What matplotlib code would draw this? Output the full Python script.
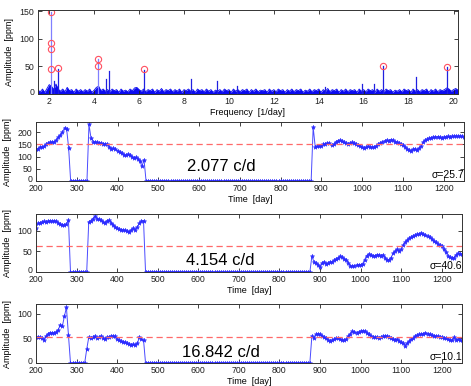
import numpy as np
import matplotlib
matplotlib.use("Agg")
import matplotlib.pyplot as plt
import matplotlib.transforms as mtransforms

plt.rcParams['font.family'] = ['Liberation Sans', 'DejaVu Sans']

# ---------------- Periodogram (top panel) ----------------
noise_start = 1.5
noise_step = 0.1
noise_amp = [
    7, 4, 9, 3, 10, 17, 14, 8, 18, 9,
    5, 9, 4, 12, 6, 8, 3, 9, 5, 8,
    4, 8, 5, 9, 3, 7, 12, 14, 6, 9,
    5, 8, 4, 9, 6, 8, 3, 9, 5, 7,
    4, 9, 6, 11, 12, 8, 5, 9, 4, 8,
    6, 9, 3, 8, 5, 10, 4, 8, 6, 9,
    4, 8, 5, 9, 3, 8, 6, 9, 5, 8,
    3, 9, 6, 8, 4, 9, 5, 8, 3, 7,
    5, 8, 4, 9, 6, 8, 3, 9, 5, 8,
    4, 8, 6, 9, 3, 8, 5, 9, 4, 7,
    6, 8, 3, 9, 5, 8, 4, 9, 6, 8,
    3, 8, 5, 9, 4, 8, 6, 9, 3, 7,
    5, 9, 4, 8, 6, 9, 3, 8, 5, 10,
    4, 8, 6, 9, 3, 8, 5, 9, 4, 8,
    6, 8, 3, 9, 5, 8, 4, 9, 6, 8,
    3, 9, 5, 8, 4, 9, 6, 8, 3, 7,
    5, 8, 4, 9, 6, 8, 3, 9, 5, 8,
    4, 8, 6, 9, 3, 8, 5, 9, 4, 8,
    6, 8, 11, 9, 5, 8, 10, 7,
]

peak_freq = [2.077, 2.21, 2.40, 4.154, 4.53, 4.67, 6.22, 8.30, 9.48, 10.37,
             14.30, 15.93, 16.44, 16.842, 18.33, 19.70]
peak_amp = [148, 24, 45, 63, 27, 41, 44, 28, 23, 14,
            13, 19, 19, 50, 31, 48]

circle_freq = [2.077, 2.077, 2.077, 2.077, 2.40, 4.154, 4.154, 6.22, 16.842, 19.70]
circle_amp = [148, 93, 81, 45, 47, 63, 51, 45, 51, 49]

# ---------------- Amplitude vs time ----------------
t_start = 200
t_step = 5

amp_2077 = [
    # 200-280
    132, 133, 140, 138, 142, 150, 155, 160, 158, 162, 168, 180, 188, 200, 218, 215, 137,
    # 285-325
    0, 0, 0, 0, 0, 0, 0, 0, 0,
    # 330-465
    232, 175, 162, 160, 158, 157, 155, 153, 152, 150, 140, 132, 135, 130, 125, 120,
    115, 108, 105, 110, 108, 100, 95, 97, 90, 80, 60, 88,
    # 470-875
    *([0] * 82),
    # 880-1250
    220, 140, 142, 145, 145, 150, 152, 155, 155, 148, 150, 160, 165, 167, 165, 160,
    155, 152, 155, 158, 157, 152, 148, 145, 138, 135, 138, 142, 140, 138, 140, 145,
    150, 155, 160, 165, 168, 165, 170, 168, 162, 160, 155, 150, 148, 140, 132, 128,
    125, 130, 132, 128, 135, 145, 160, 168, 172, 175, 178, 180, 180, 182, 180, 175,
    180, 182, 183, 182, 183, 183, 184, 183, 184, 183, 182,
]

amp_4154 = [
    108, 118, 120, 122, 123, 122, 124, 125, 124, 125, 123, 120, 116, 115, 114, 116, 126,
    0, 0, 0, 0, 0, 0, 0, 0, 0,
    122, 125, 130, 135, 130, 128, 126, 122, 120, 125, 126, 120, 115, 110, 106, 104,
    103, 102, 101, 100, 98, 103, 106, 103, 110, 118, 124, 125,
    *([0] * 82),
    38, 25, 22, 18, 12, 22, 25, 20, 22, 25, 24, 28, 32, 35, 38, 36,
    32, 30, 22, 15, 14, 15, 17, 18, 18, 20, 30, 40, 44, 42, 40, 40,
    42, 42, 40, 42, 35, 28, 30, 35, 45, 50, 55, 50, 55, 65, 72, 78,
    82, 85, 88, 90, 92, 93, 96, 92, 90, 88, 85, 80, 75, 72, 68, 65,
    62, 55, 48, 40, 36, 35, 35, 42, 45, 44, 44,
]

amp_16842 = [
    52, 53, 52, 50, 47, 55, 60, 62, 61, 62, 63, 68, 78, 75, 95, 113, 57,
    0, 0, 0, 0, 0, 0, 0, 0, 28,
    52, 50, 52, 55, 50, 52, 55, 50, 48, 52, 53, 55, 55, 54, 48, 46,
    45, 43, 42, 40, 38, 36, 38, 37, 40, 53, 48, 47,
    *([0] * 82),
    55, 50, 58, 60, 58, 55, 52, 50, 47, 45, 47, 48, 50, 50, 48, 47,
    46, 48, 55, 60, 65, 63, 62, 63, 65, 66, 65, 62, 58, 55, 53, 52,
    52, 50, 52, 54, 55, 55, 52, 50, 48, 47, 48, 44, 42, 40, 35, 40,
    45, 48, 50, 55, 57, 58, 58, 60, 62, 60, 58, 57, 55, 55, 54, 53,
    52, 50, 50, 48, 47, 46, 52, 47, 48, 46, 46,
]

series = [
    (amp_2077, 150, "2.077 c/d", "σ=25.7", (0, 242), [0, 50, 100, 150, 200], 0.25),
    (amp_4154, 62, "4.154 c/d", "σ=40.6", (0, 141), [0, 50, 100], 0.19),
    (amp_16842, 52, "16.842 c/d", "σ=10.1", (0, 120), [0, 50, 100], 0.18),
]

# ---------------- Figure ----------------
W, H = 471, 386
fig = plt.figure(figsize=(W / 100, H / 100), dpi=100)


def px_axes(left, top, right, bottom):
    return fig.add_axes([left / W, 1 - bottom / H, (right - left) / W, (bottom - top) / H])


def style(ax):
    ax.tick_params(direction='in', top=True, right=True, labelsize=6.3,
                   length=3, width=0.6, colors='#222222')
    ax.tick_params(axis='x', pad=2.5)
    ax.tick_params(axis='y', pad=2.5)
    for s in ax.spines.values():
        s.set_linewidth(0.7)
        s.set_color('#333333')
    # nudge the bottom y tick label up a little so it clears the x tick labels
    shift = mtransforms.ScaledTranslation(0, 2.2 / 100, fig.dpi_scale_trans)
    for lab in ax.get_yticklabels():
        if lab.get_text() in ('0', '−0', '0.0'):
            lab.set_transform(lab.get_transform() + shift)


# top panel
ax0 = px_axes(38, 10, 458, 94)
f = noise_start + noise_step * np.arange(len(noise_amp))
ax0.fill_between(f, 0, noise_amp, color='#0a0af0', lw=0)
ax0.plot(f, noise_amp, color='#0a0af0', lw=0.6)
for fr, a in zip(peak_freq, peak_amp):
    col = '#8080ff' if a > 60 else '#2020e0'
    ax0.plot([fr, fr], [0, a], color=col, lw=0.9)
ax0.plot(circle_freq, circle_amp, 'o', mfc='none', mec='#ff5060', ms=4.5, mew=0.8)
ax0.set_xlim(1.5, 20.2)
ax0.set_ylim(0, 152)
ax0.set_xticks(np.arange(2, 21, 2))
ax0.set_yticks([0, 50, 100, 150])
ax0.set_xlabel("Frequency  [1/day]", fontsize=6.5, labelpad=1)
ax0.set_ylabel("Amplitude  [ppm]", fontsize=6.5, labelpad=4)
fig.canvas.draw()
style(ax0)

boxes = [(36, 122, 464, 181), (36, 214, 462, 272), (36, 304, 462, 363)]
for (vals, mean, label, sig, ylim, yt, ty), box in zip(series, boxes):
    ax = px_axes(*box)
    t = t_start + t_step * np.arange(len(vals))
    ax.plot(t, vals, color='#4a4aff', lw=0.7, marker='*', ms=3.2,
            mec='#2a2aff', mfc='#2a2aff', mew=0.4)
    ax.axhline(mean, color='#ff6a6a', lw=0.9, ls=(0, (5, 3)))
    ax.set_xlim(200, 1250)
    ax.set_ylim(*ylim)
    ax.set_xticks(np.arange(200, 1201, 100))
    ax.set_yticks(yt)
    ax.set_xlabel("Time  [day]", fontsize=6.5, labelpad=1)
    ax.set_ylabel("Amplitude  [ppm]", fontsize=6.5, labelpad=4)
    ax.text(655, ylim[1] * ty, label, fontsize=12, ha='center', va='center')
    ax.text(1.0, 0.01, sig, transform=ax.transAxes, fontsize=7.5,
            ha='right', va='bottom')
    fig.canvas.draw()
    style(ax)

fig.savefig("out.png", dpi=100)
